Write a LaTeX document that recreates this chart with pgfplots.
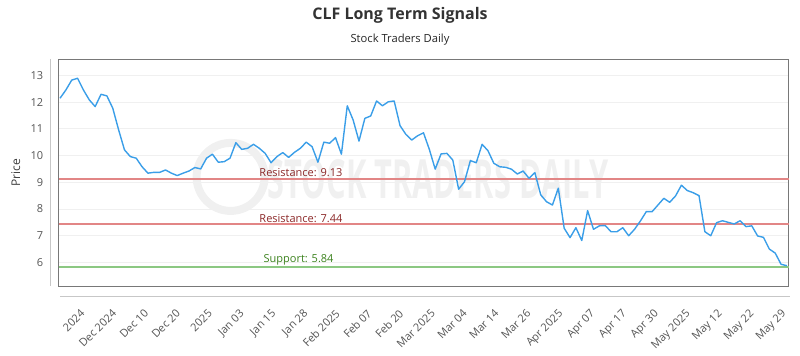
\documentclass[border=0pt]{standalone}
\usepackage{fontspec}
\setmainfont{Open Sans}
\usepackage{graphicx}
\usepackage{pgfplots}
\pgfplotsset{compat=1.18}
\definecolor{lineblue}{RGB}{58,158,232}
\definecolor{resline}{RGB}{226,134,134}
\definecolor{restext}{RGB}{139,40,40}
\definecolor{supline}{RGB}{140,200,130}
\definecolor{suptext}{RGB}{60,130,30}
\definecolor{ticktext}{RGB}{85,85,85}
\definecolor{framegray}{RGB}{120,120,120}
\begin{document}
\begin{tikzpicture}
\begin{axis}[
  at={(0pt,0pt)}, anchor=origin,
  scale only axis, width=730pt, height=227pt,
  xmin=-0.22, xmax=124.3, ymin=5.12, ymax=13.61,
  axis line style={draw=framegray, line width=0.8pt},
  major tick length=0pt,
  ytick={6,7,8,9,10,11,12,13},
  ymajorgrids, grid style={draw=black!6, line width=0.6pt},
  /pgf/number format/assume math mode=true,
  yticklabel style={font=\fontsize{11}{13}\selectfont, text=ticktext, xshift=-12pt},
  xtick={3.0,8.43,13.87,19.30,24.74,30.17,35.60,41.04,46.47,51.91,57.34,62.77,68.21,73.64,79.08,84.51,89.94,95.38,100.81,106.25,111.68,117.11,122.55},
  xticklabels={2024,Dec 2024,Dec 10,Dec 20,2025,Jan 03,Jan 15,Jan 28,Feb 2025,Feb 07,Feb 20,Mar 2025,Mar 04,Mar 14,Mar 26,Apr 2025,Apr 07,Apr 17,Apr 30,May 2025,May 12,May 22,May 29},
  xticklabel style={font=\fontsize{11}{13}\selectfont, text=ticktext, rotate=45, anchor=north east, yshift=-14pt, xshift=-11pt},
  ylabel={Price}, ylabel style={font=\fontsize{12}{14}\selectfont, text=black!75, at={(-43pt,113.5pt)}, anchor=center, rotate=0},
  clip=false,
]
% watermark
\node[text=black!6, font=\bfseries\fontsize{54}{58}\selectfont] at (axis cs:64.5,9.1) {\scalebox{0.57}[1]{STOCK TRADERS DAILY}};
\draw[black!6, line width=8pt] (axis cs:29.1,9.2) circle[radius=34pt];
\addplot[resline, line width=1.8pt, forget plot] coordinates {(-0.22,9.13) (124.3,9.13)};
\addplot[resline, line width=1.8pt, forget plot] coordinates {(-0.22,7.44) (124.3,7.44)};
\addplot[supline, line width=1.8pt, forget plot] coordinates {(-0.22,5.84) (124.3,5.84)};
\node[anchor=south, text=restext, font=\fontsize{11}{13}\selectfont, inner sep=1.5pt] at (axis cs:41.1,9.13) {Resistance: 9.13};
\node[anchor=south, text=restext, font=\fontsize{11}{13}\selectfont, inner sep=1.5pt] at (axis cs:41.1,7.44) {Resistance: 7.44};
\node[anchor=south, text=suptext, font=\fontsize{11}{13}\selectfont, inner sep=1.5pt] at (axis cs:40.7,5.84) {Support: 5.84};
\addplot[lineblue, line width=1.4pt, line join=round] table {
x y
0 12.14
1 12.45
2 12.82
3 12.89
4 12.45
5 12.08
6 11.83
7 12.29
8 12.23
9 11.77
10 10.96
11 10.21
12 9.96
13 9.90
14 9.58
15 9.34
16 9.37
17 9.37
18 9.46
19 9.34
20 9.25
21 9.34
22 9.42
23 9.55
24 9.50
25 9.90
26 10.05
27 9.75
28 9.77
29 9.90
30 10.48
31 10.23
32 10.27
33 10.42
34 10.27
35 10.08
36 9.73
37 9.96
38 10.11
39 9.93
40 10.12
41 10.27
42 10.50
43 10.33
44 9.75
45 10.50
46 10.46
47 10.67
48 10.05
49 11.86
50 11.33
51 10.54
52 11.39
53 11.48
54 12.04
55 11.86
56 12.01
57 12.04
58 11.12
59 10.79
60 10.58
61 10.74
62 10.85
63 10.23
64 9.49
65 10.06
66 10.08
67 9.83
68 8.74
69 9.02
70 9.81
71 9.73
72 10.42
73 10.18
74 9.71
75 9.58
76 9.56
77 9.49
78 9.31
79 9.42
80 9.15
81 9.36
82 8.53
83 8.27
84 8.15
85 8.78
86 7.28
87 6.93
88 7.30
89 6.82
90 7.94
91 7.24
92 7.37
93 7.38
94 7.15
95 7.15
96 7.30
97 7.00
98 7.24
99 7.55
100 7.90
101 7.90
102 8.15
103 8.40
104 8.25
105 8.49
106 8.89
107 8.69
108 8.61
109 8.50
110 7.15
111 7.00
112 7.49
113 7.56
114 7.50
115 7.44
116 7.56
117 7.34
118 7.37
119 6.99
120 6.94
121 6.50
122 6.35
123 5.93
124 5.88
};
\end{axis}
% offset axis lines
\draw[black!22, line width=0.8pt] (-10pt,0pt) -- (-10pt,227pt);
\draw[black!22, line width=0.8pt] (0pt,-10pt) -- (730pt,-10pt);
% titles
\node[font=\bfseries\fontsize{16}{18}\selectfont, text=black!80] at (340pt,271pt) {CLF Long Term Signals};
\node[font=\fontsize{11.2}{13}\selectfont, text=black!85] at (340pt,246pt) {Stock Traders Daily};
\useasboundingbox (-60pt,-64pt) rectangle (740pt,286pt);
\end{tikzpicture}
\end{document}
